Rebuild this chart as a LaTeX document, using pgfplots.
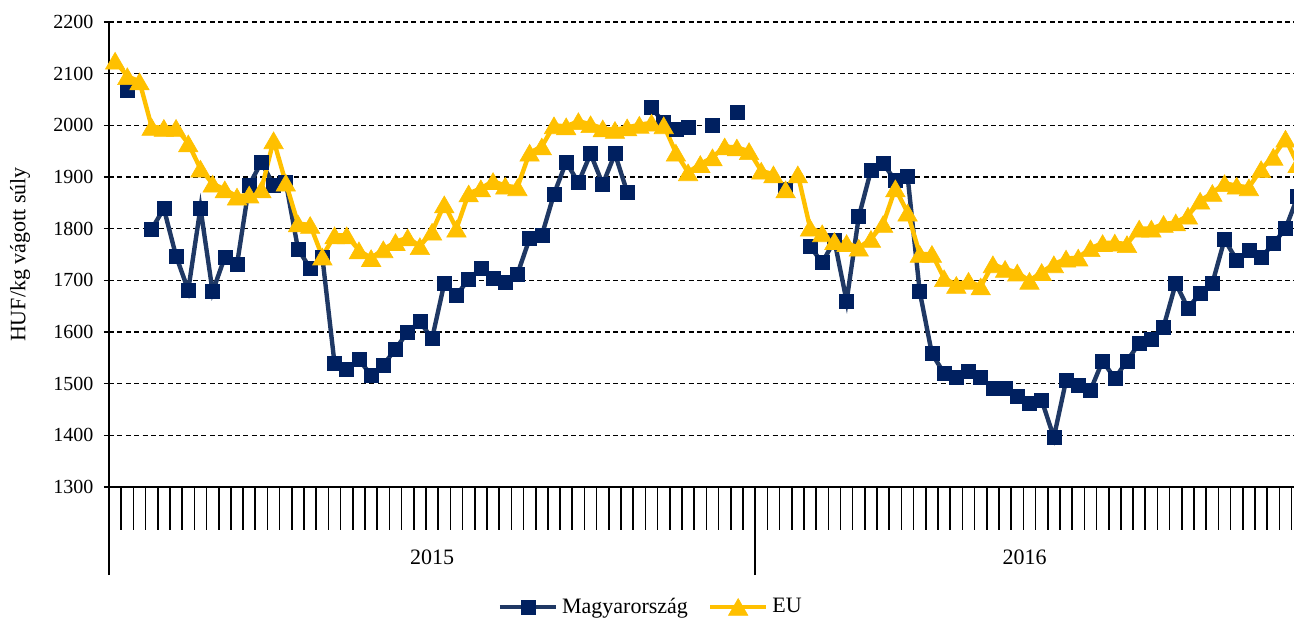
\documentclass[border=0pt]{standalone}
\usepackage{fontspec}
\setmainfont{Liberation Serif}
\usepackage{pgfplots}
\pgfplotsset{compat=1.18}
\usepackage{pgfplotstable}

\definecolor{huline}{HTML}{1F3864}
\definecolor{humark}{HTML}{002060}
\definecolor{eucol}{HTML}{FFC000}

% weekly prices, 2015 = weeks 1-53, 2016 = 54-98
\pgfplotstableread{
week hu eu
1 nan 2125
2 2068 2095
3 nan 2085
4 1799 1997
5 1839 1995
6 1747 1995
7 1681 1965
8 1840 1916
9 1678 1887
10 1745 1876
11 1731 1862
12 1884 1866
13 1929 1876
14 1884 1971
15 1890 1889
16 1761 1810
17 1723 1807
18 1745 1746
19 1539 1787
20 1527 1787
21 1547 1758
22 1516 1743
23 1536 1760
24 1567 1774
25 1600 1783
26 1620 1766
27 1587 1794
28 1694 1847
29 1671 1800
30 1702 1868
31 1723 1878
32 1703 1892
33 1697 1883
34 1712 1880
35 1781 1947
36 1787 1959
37 1867 2000
38 1929 1998
39 1889 2008
40 1945 2002
41 1886 1994
42 1945 1991
43 1871 1996
44 nan 2001
45 2034 2005
46 2005 2000
47 1993 1947
48 1997 1909
49 nan 1925
50 2001 1938
51 nan 1959
52 2025 1957
53 nan 1950
54 nan 1912
55 nan 1905
56 1877 1876
57 nan 1905
58 1766 1802
59 1734 1791
60 1777 1776
61 1660 1772
62 1823 1763
63 1913 1780
64 1926 1809
65 1893 1878
66 1902 1831
67 1678 1751
68 1558 1751
69 1520 1704
70 1512 1691
71 1523 1699
72 1512 1688
73 1491 1731
74 1491 1722
75 1475 1715
76 1462 1699
77 1468 1716
78 1396 1731
79 1506 1742
80 1497 1744
81 1487 1762
82 1544 1772
83 1510 1773
84 1544 1770
85 1578 1800
86 1586 1800
87 1610 1809
88 1694 1812
89 1646 1825
90 1675 1854
91 1694 1869
92 1779 1888
93 1739 1883
94 1758 1880
95 1744 1915
96 1771 1939
97 1800 1974
98 1862 1925
}\prices

\begin{document}
\begin{tikzpicture}
\begin{axis}[
    at={(0,0)}, anchor=south west,
    scale only axis, width=592.5pt, height=232.5pt,
    xmin=0.5, xmax=97.7, ymin=1300, ymax=2200,
    clip=false,
    unbounded coords=jump,
    axis lines*=left,
    axis line style={line width=1pt, black},
    ytick={1300,1400,...,2200},
    ymajorgrids,
    grid style={dash pattern=on 2.5pt off 1.7pt, line width=0.6pt, black},
    xtick={0.5,53.5}, xticklabels={},
    minor xtick={1.5,2.5,...,97.5},
    tick align=outside,
    xtick style={line width=0.8pt, black, /pgfplots/major tick length=44pt, /pgfplots/minor tick length=21.5pt},
    ytick style={line width=0.8pt, black, /pgfplots/major tick length=2.5pt},
    ticklabel style={font=\fontsize{10}{12}\selectfont},
    /pgf/number format/assume math mode=true,
    /pgf/number format/1000 sep={},
    ylabel={HUF/kg vágott súly},
    ylabel style={at={(axis description cs:-0.0751,0.5)}, anchor=center, font=\fontsize{11}{13}\selectfont},
    legend style={at={(axis description cs:0.458,-0.258)}, anchor=center, draw=none, fill=none,
        legend columns=2, font=\fontsize{11}{13}\selectfont,
        /tikz/every even column/.append style={column sep=8pt}},
    legend image code/.code={\draw[#1, mark repeat=2, mark phase=2] plot coordinates {(0pt,0pt) (14pt,0pt) (28pt,0pt)};},
]
\addplot[huline, line width=2.2pt, mark=square*, mark size=3.5pt,
    mark options={fill=humark, draw=humark, line width=0.3pt}] table[x=week, y=hu] {\prices};
\addlegendentry{Magyarország}
\addplot[eucol, line width=2.2pt, mark=triangle*, mark size=5.6pt,
    mark options={fill=eucol, draw=eucol, line width=0.3pt, yshift=-1.4pt}] table[x=week, y=eu] {\prices};
\addlegendentry{EU}
\node[font=\fontsize{11}{13}\selectfont] at (axis cs:27,1300) [yshift=-35pt] {2015};
\node[font=\fontsize{11}{13}\selectfont] at (axis cs:75.6,1300) [yshift=-35pt] {2016};
\end{axis}
\pgfresetboundingbox
\path[use as bounding box] (-54.5pt,-66pt) rectangle (592.5pt,243.5pt);
\end{tikzpicture}
\end{document}
